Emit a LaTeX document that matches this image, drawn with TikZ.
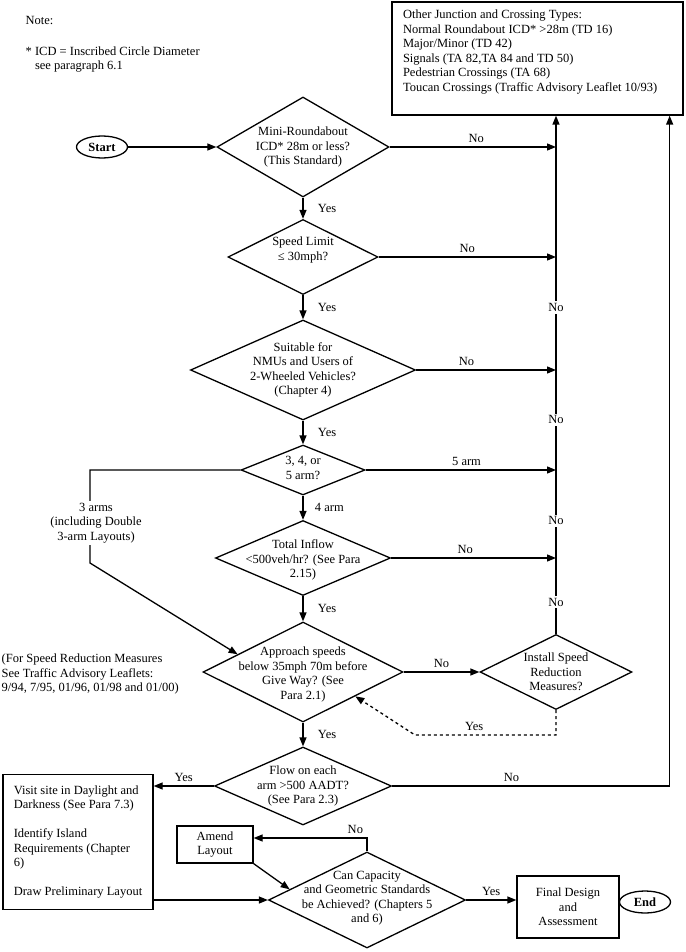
\documentclass[tikz,border=0pt]{standalone}
\usepackage{fontspec}
\setmainfont{Liberation Serif}
\usetikzlibrary{shapes.geometric,arrows.meta,calc}

\begin{document}
\begin{tikzpicture}[x=1pt,y=-1pt,font=\fontsize{12.5}{14.5}\selectfont,
  line width=1.3pt,>={Triangle[length=9pt,width=7pt]},
  dec/.style = {draw, diamond, inner sep=0pt},
  box/.style = {draw, rectangle},
  term/.style = {draw, ellipse, minimum width=51pt, minimum height=22pt, inner sep=0pt, font=\fontsize{12.5}{14.5}\selectfont\bfseries},
  txt/.style = {align=center, inner sep=0pt},
  lbl/.style = {fill=white, inner sep=2pt},
  yes/.style = {right, xshift=11pt},
  node distance=110pt]
\useasboundingbox (0,0) rectangle (685,952);

\node[anchor=west, inner sep=0pt] (note) at (25,20) {Note:};
\node[anchor=north west, align=left, inner sep=0pt] (icd) at (25,46) {* ICD = Inscribed Circle Diameter\\\phantom{* }see paragraph 6.1};
\node[anchor=west, align=left, inner sep=0pt] (srm) at (1,674) {(For Speed Reduction Measures\\See Traffic Advisory Leaflets:\\9/94, 7/95, 01/96, 01/98 and 01/00)};

\node[box, minimum width=291pt, minimum height=113pt] (others) at (537.5,58.5) {};
\node[txt, align=left, anchor=north west] (others-t) at ([xshift=11pt,yshift=-8pt]others.north west) {Other Junction and Crossing Types:\\Normal Roundabout ICD* >28m (TD 16)\\Major/Minor (TD 42)\\Signals (TA 82,TA 84 and TD 50)\\Pedestrian Crossings (TA 68)\\Toucan Crossings (Traffic Advisory Leaflet 10/93)};

\node[dec, minimum width=172pt, minimum height=100pt] (mini) at (303,147) {};
\node[dec, minimum width=150pt, minimum height=75pt] (speed) [below of=mini] {};
\node[dec, minimum width=225pt, minimum height=100pt, node distance=113pt] (nmu) [below of=speed] {};
\node[dec, minimum width=124pt, minimum height=50pt, node distance=100pt] (arms) [below of=nmu] {};
\node[dec, minimum width=175pt, minimum height=75pt, node distance=88pt] (inflow) [below of=arms] {};
\node[dec, minimum width=200pt, minimum height=100pt, node distance=114pt] (approach) [below of=inflow] {};
\node[dec, minimum width=152pt, minimum height=75pt, node distance=253pt] (install) [right of=approach] {};
\node[dec, minimum width=177pt, minimum height=78pt, node distance=114pt] (flow) [below of=approach] {};
\node[dec, minimum width=197pt, minimum height=96pt] (capacity) at (367,900) {};

\node[txt] (mini-t) at (mini) {Mini-Roundabout\\ICD* 28m or less?\\(This Standard)};
\node[txt] (speed-t) at ([yshift=7pt]speed) {Speed Limit\\≤ 30mph?};
\node[txt] (nmu-t) at (nmu) {Suitable for\\NMUs and Users of\\2-Wheeled Vehicles?\\(Chapter 4)};
\node[txt] (arms-t) at ([yshift=2pt]arms) {3, 4, or\\5 arm?};
\node[txt] (inflow-t) at ([yshift=-2pt]inflow) {Total Inflow\\<500veh/hr? (See Para\\2.15)};
\node[txt] (approach-t) at ([yshift=-2.5pt]approach) {Approach speeds\\below 35mph 70m before\\Give Way? (See\\Para 2.1)};
\node[txt] (install-t) at (install) {Install Speed\\Reduction\\Measures?};
\node[txt] (flow-t) at (flow) {Flow on each\\arm >500 AADT?\\(See Para 2.3)};
\node[txt] (capacity-t) at ([yshift=2pt]capacity) {Can Capacity\\and Geometric Standards\\be Achieved? (Chapters 5\\and 6)};

\node[term] (start) [left of=mini, node distance=201pt] {Start};
\node[box, minimum width=150pt, minimum height=135pt, align=left] (visit) at (78,842) {Visit site in Daylight and\\Darkness (See Para 7.3)\\[14.5pt]Identify Island\\Requirements (Chapter\\6)\\[14.5pt]Draw Preliminary Layout};
\node[box, minimum width=76pt, minimum height=37pt, align=center] (amend) at (215,844.5) {Amend\\Layout};
\node[box, minimum width=102pt, minimum height=62pt, align=center] (final) at (568,907) {Final Design\\and\\Assessment};
\node[term] (finish) at (645,902) {End};

\coordinate (up1) at (install |- others.south);
\coordinate (up2) at ([xshift=-14pt]others.south east);
\coordinate (a3top) at (90,470);
\coordinate (a3bot) at (90,563);
\coordinate (bend) at (415,735);

\draw[->] (start) -- (mini);
\draw[->] (mini) -- node[yes]{Yes} (speed);
\draw[->] (speed) -- node[yes]{Yes} (nmu);
\draw[->] (nmu) -- node[yes]{Yes} (arms);
\draw[->] (arms) -- node[yes, xshift=-3pt]{4 arm} (inflow);
\draw[->] (inflow) -- node[yes]{Yes} (approach);
\draw[->] (approach) -- node[yes]{Yes} (flow);

\draw[->] (install) -- node[lbl,pos=0.061]{No} node[lbl,pos=0.218]{No} node[lbl,pos=0.413]{No} node[lbl,pos=0.630]{No} (up1);
\draw[->] (mini) -- node[above,pos=0.52]{No} (mini -| up1);
\draw[->] (speed) -- node[above,pos=0.5]{No} (speed -| up1);
\draw[->] (nmu) -- node[above,pos=0.36]{No} (nmu -| up1);
\draw[->] (arms) -- node[above,pos=0.53]{5 arm} (arms -| up1);
\draw[->] (inflow) -- node[above,pos=0.45]{No} (inflow -| up1);
\draw[->] (flow) -- node[above,pos=0.43]{No} (flow -| up2) -- (up2);

\draw[->] (arms) -- (a3top) -- node[lbl, pos=0.57, xshift=6pt, align=center]{3 arms\\(including Double\\3-arm Layouts)} (a3bot) -- ($(approach.west)!0.35!(approach.north)$);
\draw[->] (approach) -- node[above]{No} (install);
\draw[->, dashed] (install) |- node[above,pos=0.79]{Yes} (bend) -- ($(approach.south)!0.52!(approach.east)$);

\draw[->] (flow) -- node[above]{Yes} (flow -| visit.east);
\draw[->] (visit.east |- capacity) -- (capacity);
\draw[->] (amend.south east) -- ($(capacity.west)!0.22!(capacity.north)$);
\draw[->] (capacity.north) |- node[above left, pos=0.5]{No} ([yshift=6.5pt]amend.east);
\draw[->] (capacity) -- node[above]{Yes} (capacity -| final.west);
\end{tikzpicture}
\end{document}
